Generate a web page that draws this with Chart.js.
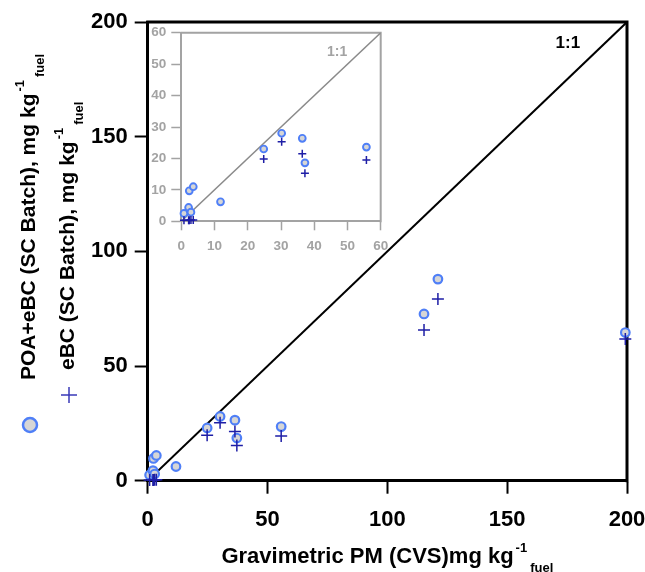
<!DOCTYPE html>
<html><head><meta charset="utf-8">
<script src="https://cdn.jsdelivr.net/npm/chart.js@4"></script>
<style>
html,body{margin:0;padding:0;background:#fff;}
#wrap{position:relative;width:645px;height:572px;overflow:hidden;}
#main{position:absolute;left:0;top:0;}
#inset{position:absolute;left:149px;top:24px;}
</style></head><body>
<div id="wrap"><canvas id="main" width="645" height="572"></canvas><canvas id="inset" width="251" height="238"></canvas></div>
<script>
// ---- data ----
const gravPM = [0.8, 2.2, 2.9, 2.4, 3.6, 11.8, 24.8, 30.2, 36.4, 37.2, 55.7, 115.3, 121.1, 199.3];
const poaEbc = [2.5, 4.4, 2.9, 9.7, 11.0, 6.2, 23.0, 28.0, 26.4, 18.6, 23.6, 72.7, 87.9, 64.6];
const ebc    = [0.3, 0.3, 0.4, 0.3, 0.4, null, 19.8, 25.3, 21.5, 15.3, 19.5, 65.7, 79.2, 61.8];
const mainTicks = [0, 50, 100, 150, 200];
const insetTicks = [0, 10, 20, 30, 40, 50, 60];
const mainOneToOne = [0, 200];
const insetOneToOne = [0, 60];
const seriesNames = ['POA+eBC (SC Batch), mg kg', 'eBC (SC Batch), mg kg'];
const xTitle = 'Gravimetric PM (CVS)mg kg';

const FONT = '"Liberation Sans", Arial, Helvetica, sans-serif';
Chart.defaults.font.family = FONT;

const circlePts = gravPM.map((x, i) => ({x: x, y: poaEbc[i]}));
const crossPts = gravPM.map((x, i) => ({x: x, y: ebc[i]})).filter(p => p.y !== null);

const CIRCLE_FILL = '#d6d6d6', CIRCLE_EDGE = '#4f7ff7', CROSS = '#1e1ea6';

function richText(ctx, parts, x, y, rot) {
  ctx.save();
  ctx.translate(x, y);
  if (rot) ctx.rotate(rot);
  ctx.textBaseline = 'alphabetic';
  ctx.textAlign = 'left';
  let cx = 0;
  for (const p of parts) {
    ctx.font = 'bold ' + p.size + 'px ' + FONT;
    ctx.fillStyle = p.color || '#000';
    cx += (p.gap || 0);
    ctx.fillText(p.t, cx, p.dy || 0);
    cx += ctx.measureText(p.t).width;
  }
  ctx.restore();
  return cx;
}
function richWidth(ctx, parts) {
  let w = 0;
  ctx.save();
  for (const p of parts) { ctx.font = 'bold ' + p.size + 'px ' + FONT; w += (p.gap || 0) + ctx.measureText(p.t).width; }
  ctx.restore();
  return w;
}
function unitParts(base, size) {
  return [{t: base, size: size}, {t: '-1', size: 13, dy: -11, gap: 2}, {t: 'fuel', size: 13, dy: 9, gap: 3}];
}
function noEdgePad(s) { s.paddingLeft = 0; s.paddingRight = 0; s.paddingTop = 0; s.paddingBottom = 0; }

const mainDeco = {
  id: 'mainDeco',
  beforeDatasetsDraw(chart) {
    const {ctx, chartArea: a} = chart;
    ctx.save();
    ctx.strokeStyle = '#000'; ctx.lineWidth = 3;
    ctx.beginPath();
    ctx.moveTo(a.left - 1.5, a.top); ctx.lineTo(a.right, a.top); ctx.lineTo(a.right, a.bottom + 1.5);
    ctx.stroke();
    ctx.restore();
  },
  afterDraw(chart) {
    const {ctx, chartArea: a, scales} = chart;
    ctx.save();
    ctx.font = 'bold 17px ' + FONT; ctx.fillStyle = '#000';
    ctx.textAlign = 'center'; ctx.textBaseline = 'middle';
    ctx.fillText('1:1', scales.x.getPixelForValue(175.3), scales.y.getPixelForValue(190.8));
    ctx.restore();
    const xp = unitParts(xTitle, 22);
    const w = richWidth(ctx, xp);
    richText(ctx, xp, (a.left + a.right) / 2 - w / 2, 563, 0);
    richText(ctx, unitParts(seriesNames[0], 21), 35, 380, -Math.PI / 2);
    richText(ctx, unitParts(seriesNames[1], 21), 74, 370, -Math.PI / 2);
    ctx.save();
    ctx.beginPath(); ctx.arc(30, 425, 7, 0, Math.PI * 2);
    ctx.fillStyle = CIRCLE_FILL; ctx.fill();
    ctx.lineWidth = 2.5; ctx.strokeStyle = CIRCLE_EDGE; ctx.stroke();
    ctx.beginPath();
    ctx.moveTo(61, 395); ctx.lineTo(77, 395); ctx.moveTo(69, 387); ctx.lineTo(69, 403);
    ctx.lineWidth = 1.5; ctx.strokeStyle = '#3a3ab8'; ctx.stroke();
    ctx.restore();
  }
};

new Chart(document.getElementById('main'), {
  type: 'scatter',
  data: {
    datasets: [
      {data: crossPts, pointStyle: 'cross', pointRadius: 6, pointBorderWidth: 1.5, borderColor: CROSS, backgroundColor: CROSS, clip: false},
      {data: circlePts, pointStyle: 'circle', pointRadius: 4.3, pointBorderWidth: 2.2, borderColor: CIRCLE_EDGE, backgroundColor: CIRCLE_FILL, clip: false},
      {data: mainOneToOne.map(v => ({x: v, y: v})), showLine: true, pointRadius: 0, borderColor: '#000', borderWidth: 2}
    ]
  },
  options: {
    responsive: false, animation: false, devicePixelRatio: 1,
    layout: {padding: {top: 22, right: 18, left: 0, bottom: 0}},
    plugins: {legend: {display: false}, tooltip: {enabled: false}},
    scales: {
      x: {
        type: 'linear', min: 0, max: 200,
        afterBuildTicks: s => { s.ticks = mainTicks.map(v => ({value: v})); },
        afterFit: s => { s.height = 91.3; noEdgePad(s); },
        ticks: {color: '#000', font: {size: 22, weight: 'bold'}, padding: 13, maxRotation: 0},
        grid: {drawOnChartArea: false, tickLength: 13, tickColor: '#000', tickWidth: 2},
        border: {color: '#000', width: 3}
      },
      y: {
        type: 'linear', min: 0, max: 200,
        afterBuildTicks: s => { s.ticks = mainTicks.map(v => ({value: v})); },
        afterFit: s => { s.width = 147.7; noEdgePad(s); },
        ticks: {color: '#000', font: {size: 22, weight: 'bold'}, padding: 7},
        grid: {drawOnChartArea: false, tickLength: 13, tickColor: '#000', tickWidth: 2},
        border: {color: '#000', width: 3}
      }
    }
  },
  plugins: [mainDeco]
});

const GRAY = '#a3a3a3';
const insetDeco = {
  id: 'insetDeco',
  beforeDatasetsDraw(chart) {
    const {ctx, chartArea: a} = chart;
    ctx.save();
    ctx.strokeStyle = GRAY; ctx.lineWidth = 2;
    ctx.beginPath();
    ctx.moveTo(a.left - 1, a.top); ctx.lineTo(a.right, a.top); ctx.lineTo(a.right, a.bottom + 1);
    ctx.stroke();
    ctx.restore();
  },
  afterDraw(chart) {
    const {ctx, scales} = chart;
    ctx.save();
    ctx.font = 'bold 14px ' + FONT; ctx.fillStyle = GRAY;
    ctx.textAlign = 'center'; ctx.textBaseline = 'middle';
    ctx.fillText('1:1', scales.x.getPixelForValue(46.9), scales.y.getPixelForValue(53.8));
    ctx.restore();
  }
};

new Chart(document.getElementById('inset'), {
  type: 'scatter',
  data: {
    datasets: [
      {data: crossPts, pointStyle: 'cross', pointRadius: 4, pointBorderWidth: 1.5, borderColor: CROSS, backgroundColor: CROSS, clip: false},
      {data: circlePts, pointStyle: 'circle', pointRadius: 3.4, pointBorderWidth: 1.9, borderColor: CIRCLE_EDGE, backgroundColor: CIRCLE_FILL, clip: false},
      {data: insetOneToOne.map(v => ({x: v, y: v})), showLine: true, pointRadius: 0, borderColor: '#8a8a8a', borderWidth: 1.5}
    ]
  },
  options: {
    responsive: false, animation: false, devicePixelRatio: 1,
    layout: {padding: {top: 8.7, right: 19.3, left: 0, bottom: 0}},
    plugins: {legend: {display: false}, tooltip: {enabled: false}},
    scales: {
      x: {
        type: 'linear', min: 0, max: 60,
        afterBuildTicks: s => { s.ticks = insetTicks.map(v => ({value: v})); },
        afterFit: s => { s.height = 40.7; noEdgePad(s); },
        ticks: {color: GRAY, font: {size: 13.5, weight: 'bold'}, padding: 8, maxRotation: 0},
        grid: {drawOnChartArea: false, tickLength: 9, tickColor: GRAY, tickWidth: 1.5},
        border: {color: GRAY, width: 2}
      },
      y: {
        type: 'linear', min: 0, max: 60,
        afterBuildTicks: s => { s.ticks = insetTicks.map(v => ({value: v})); },
        afterFit: s => { s.width = 32.3; noEdgePad(s); },
        ticks: {color: GRAY, font: {size: 13.5, weight: 'bold'}, padding: 5},
        grid: {drawOnChartArea: false, tickLength: 10, tickColor: GRAY, tickWidth: 1.5},
        border: {color: GRAY, width: 2}
      }
    }
  },
  plugins: [insetDeco]
});
</script>
</body></html>
